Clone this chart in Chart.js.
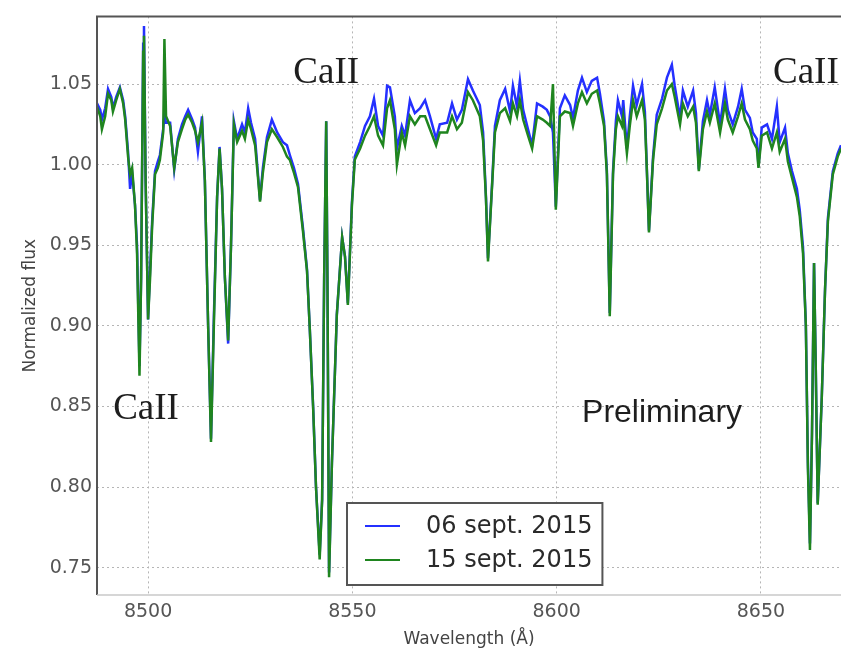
<!DOCTYPE html>
<html lang="en">
<head>
<meta charset="UTF-8">
<title>Ca II triplet</title>
<style>
  html, body { margin: 0; padding: 0; background: #fff; }
  #wrap { width: 841px; height: 654px; }
</style>
</head>
<body>
<div id="wrap"><canvas id="chart" width="841" height="654"></canvas></div>
<script src="https://cdn.jsdelivr.net/npm/chart.js"></script>
<script>
// Wavelength grid (Angstrom), shared by both nights
const wavelength = [
  8487.5, 8488.3, 8488.7, 8489.5, 8490.2, 8491.0, 8491.4, 8492.2, 8493.1, 8493.9,
  8494.4, 8495.1, 8495.6, 8496.1, 8496.8, 8497.3, 8497.9, 8498.3, 8498.8, 8499.0,
  8499.4, 8500.0, 8500.5, 8501.0, 8501.7, 8502.4, 8502.9, 8503.7, 8504.0, 8504.4,
  8505.4, 8506.4, 8507.3, 8508.3, 8509.1, 8509.8, 8510.8, 8511.5, 8512.2, 8513.2,
  8513.9, 8514.7, 8515.4, 8516.1, 8516.9, 8517.5, 8518.1, 8518.8, 8519.6, 8520.3,
  8521.0, 8521.8, 8523.0, 8523.7, 8524.5, 8525.2, 8526.2, 8526.9, 8527.4, 8528.1,
  8529.1, 8530.3, 8531.6, 8533.0, 8534.0, 8534.7, 8535.7, 8536.7, 8537.9, 8538.9,
  8539.6, 8540.4, 8541.1, 8542.0, 8542.6, 8543.1, 8543.6, 8543.9, 8544.3, 8545.0,
  8546.2, 8547.5, 8548.2, 8548.9, 8549.9, 8550.6, 8551.9, 8553.1, 8554.3, 8555.3,
  8556.3, 8557.5, 8558.5, 8559.2, 8560.4, 8560.9, 8562.1, 8562.9, 8564.1, 8565.3,
  8566.6, 8567.8, 8569.0, 8570.5, 8571.4, 8573.2, 8574.4, 8575.6, 8576.8, 8578.3,
  8579.5, 8581.2, 8582.0, 8582.7, 8583.2, 8584.2, 8584.9, 8586.1, 8587.4, 8588.6,
  8589.3, 8590.3, 8591.0, 8591.8, 8593.0, 8594.0, 8595.2, 8596.6, 8597.6, 8598.4,
  8599.1, 8599.8, 8600.8, 8602.0, 8603.3, 8604.0, 8605.2, 8606.2, 8607.4, 8608.6,
  8609.9, 8610.6, 8611.6, 8612.3, 8613.0, 8613.8, 8614.5, 8615.0, 8616.0, 8616.3,
  8617.2, 8617.9, 8618.7, 8619.6, 8620.9, 8621.6, 8622.1, 8622.6, 8623.6, 8624.5,
  8625.8, 8627.0, 8628.2, 8628.9, 8630.2, 8630.9, 8632.1, 8633.4, 8634.1, 8634.8,
  8635.8, 8636.8, 8637.5, 8638.7, 8640.0, 8641.2, 8641.9, 8643.1, 8644.4, 8645.3,
  8646.1, 8647.3, 8648.0, 8649.0, 8649.4, 8650.2, 8651.5, 8652.7, 8653.9, 8654.6,
  8655.9, 8656.6, 8657.6, 8658.8, 8659.5, 8660.3, 8661.0, 8661.5, 8662.0, 8662.5,
  8663.0, 8663.4, 8663.9, 8664.9, 8665.7, 8666.4, 8667.6, 8668.8, 8669.6
];

// Normalized flux, 06 sept. 2015
const flux06 = [
  1.038, 1.034, 1.028, 1.035, 1.047, 1.042, 1.035, 1.042, 1.048, 1.040,
  1.030, 1.008, 0.985, 0.995, 0.975, 0.950, 0.875, 0.930, 1.075, 1.086,
  0.990, 0.904, 0.935, 0.965, 0.996, 1.002, 1.006, 1.022, 1.030, 1.026,
  1.026, 0.997, 1.016, 1.025, 1.030, 1.034, 1.028, 1.023, 1.008, 1.030,
  0.990, 0.900, 0.830, 0.905, 0.980, 1.011, 0.985, 0.930, 0.889, 0.950,
  1.027, 1.016, 1.025, 1.020, 1.035, 1.026, 1.016, 0.994, 0.978, 0.998,
  1.017, 1.028, 1.020, 1.014, 1.012, 1.006, 0.998, 0.988, 0.961, 0.935,
  0.897, 0.850, 0.800, 0.758, 0.792, 0.930, 1.027, 0.930, 0.747, 0.815,
  0.907, 0.955, 0.943, 0.914, 0.977, 1.005, 1.014, 1.024, 1.030, 1.041,
  1.024, 1.018, 1.049, 1.048, 1.030, 1.010, 1.024, 1.018, 1.040, 1.032,
  1.035, 1.040, 1.030, 1.016, 1.025, 1.026, 1.038, 1.028, 1.034, 1.053,
  1.046, 1.037, 1.020, 0.980, 0.942, 0.988, 1.024, 1.040, 1.047, 1.033,
  1.049, 1.036, 1.052, 1.034, 1.022, 1.012, 1.038, 1.036, 1.034, 1.030,
  1.020, 0.974, 1.035, 1.043, 1.037, 1.029, 1.046, 1.054, 1.045, 1.052,
  1.054, 1.044, 1.027, 0.996, 0.908, 0.996, 1.027, 1.040, 1.030, 1.040,
  1.010, 1.030, 1.049, 1.037, 1.050, 1.033, 0.996, 0.959, 1.005, 1.031,
  1.041, 1.054, 1.062, 1.049, 1.029, 1.046, 1.036, 1.046, 1.032, 0.997,
  1.027, 1.040, 1.031, 1.048, 1.025, 1.047, 1.034, 1.025, 1.036, 1.047,
  1.034, 1.029, 1.020, 1.016, 0.999, 1.023, 1.025, 1.016, 1.036, 1.014,
  1.023, 1.007, 0.996, 0.985, 0.972, 0.949, 0.900, 0.815, 0.765, 0.833,
  0.939, 0.878, 0.790, 0.856, 0.923, 0.967, 0.996, 1.007, 1.012
];

// Normalized flux, 15 sept. 2015
const flux15 = [
  1.036, 1.030, 1.022, 1.030, 1.044, 1.040, 1.033, 1.040, 1.047, 1.038,
  1.028, 1.005, 0.994, 0.998, 0.975, 0.945, 0.869, 0.930, 1.070, 1.080,
  0.990, 0.904, 0.930, 0.962, 0.994, 0.998, 1.003, 1.020, 1.078, 1.030,
  1.024, 0.998, 1.014, 1.022, 1.028, 1.031, 1.026, 1.021, 1.014, 1.026,
  0.990, 0.900, 0.828, 0.900, 0.980, 1.010, 0.985, 0.930, 0.891, 0.950,
  1.025, 1.014, 1.021, 1.016, 1.028, 1.022, 1.012, 0.992, 0.977, 0.995,
  1.014, 1.022, 1.017, 1.011, 1.005, 1.003, 0.995, 0.986, 0.959, 0.934,
  0.897, 0.849, 0.800, 0.755, 0.792, 0.930, 1.027, 0.930, 0.744, 0.815,
  0.907, 0.955, 0.943, 0.913, 0.975, 1.003, 1.010, 1.018, 1.024, 1.030,
  1.018, 1.012, 1.035, 1.040, 1.022, 1.000, 1.020, 1.012, 1.030, 1.025,
  1.030, 1.030, 1.022, 1.012, 1.020, 1.020, 1.030, 1.022, 1.026, 1.045,
  1.040, 1.030, 1.015, 0.979, 0.940, 0.987, 1.020, 1.032, 1.035, 1.027,
  1.038, 1.030, 1.040, 1.028, 1.018, 1.010, 1.030, 1.028, 1.026, 1.024,
  1.050, 0.972, 1.030, 1.033, 1.032, 1.024, 1.038, 1.045, 1.038, 1.044,
  1.046, 1.038, 1.024, 0.994, 0.906, 0.994, 1.022, 1.030, 1.024, 1.030,
  1.007, 1.024, 1.040, 1.030, 1.040, 1.028, 0.995, 0.958, 1.003, 1.025,
  1.035, 1.046, 1.050, 1.042, 1.025, 1.038, 1.030, 1.036, 1.026, 0.996,
  1.022, 1.033, 1.026, 1.038, 1.020, 1.038, 1.028, 1.020, 1.030, 1.038,
  1.028, 1.022, 1.015, 1.010, 0.998, 1.018, 1.020, 1.010, 1.020, 1.008,
  1.016, 1.002, 0.992, 0.980, 0.968, 0.945, 0.900, 0.812, 0.761, 0.833,
  0.939, 0.878, 0.789, 0.856, 0.923, 0.965, 0.994, 1.005, 1.010
];

const seriesLabels = ['06 sept. 2015', '15 sept. 2015'];
const xTicks = [8500, 8550, 8600, 8650];
const yTicks = [0.75, 0.80, 0.85, 0.90, 0.95, 1.00, 1.05];

// text labels placed in data coordinates
const notes = [
  { text: 'CaII', x: 8499.5, y: 0.848, font: '37px "Liberation Serif"' },
  { text: 'CaII', x: 8543.6, y: 1.057, font: '37px "Liberation Serif"' },
  { text: 'CaII', x: 8661.0, y: 1.057, font: '37px "Liberation Serif"' },
  { text: 'Preliminary', x: 8625.8, y: 0.846, font: '32px "Liberation Sans"' }
];

const TICK_FONT = { family: 'DejaVu Sans', size: 19 };
const TITLE_FONT = { family: 'DejaVu Sans', size: 17 };

// axes frame, annotations and the boxed legend
const decorations = {
  id: 'decorations',
  afterDatasetsDraw(chart) {
    const { ctx, chartArea: a, scales } = chart;
    ctx.save();

    // spines: dark top/left, light bottom
    ctx.lineWidth = 2;
    ctx.strokeStyle = '#555';
    ctx.beginPath();
    ctx.moveTo(a.left, a.bottom);
    ctx.lineTo(a.left, a.top);
    ctx.lineTo(a.right, a.top);
    ctx.stroke();
    ctx.lineWidth = 1.5;
    ctx.strokeStyle = '#c8c8c8';
    ctx.beginPath();
    ctx.moveTo(a.left, a.bottom);
    ctx.lineTo(a.right, a.bottom);
    ctx.stroke();

    // annotations
    ctx.fillStyle = '#1e1e1e';
    ctx.textAlign = 'center';
    ctx.textBaseline = 'middle';
    notes.forEach(n => {
      ctx.font = n.font;
      ctx.fillText(n.text, scales.x.getPixelForValue(n.x), scales.y.getPixelForValue(n.y));
    });

    // legend
    ctx.font = '24px "DejaVu Sans"';
    const sets = chart.data.datasets;
    const textW = Math.max(...sets.map(d => ctx.measureText(d.label).width));
    const bx = a.left + 250, by = a.bottom - 92;
    const bw = 18 + 35 + 26 + textW + 10, bh = 82;
    ctx.fillStyle = '#fff';
    ctx.fillRect(bx, by, bw, bh);
    ctx.lineWidth = 2;
    ctx.strokeStyle = '#555';
    ctx.strokeRect(bx, by, bw, bh);
    ctx.textAlign = 'left';
    sets.forEach((d, i) => {
      const y = by + 23 + i * 34;
      ctx.strokeStyle = d.borderColor;
      ctx.lineWidth = 2;
      ctx.beginPath();
      ctx.moveTo(bx + 18, y);
      ctx.lineTo(bx + 53, y);
      ctx.stroke();
      ctx.fillStyle = '#2a2a2a';
      ctx.fillText(d.label, bx + 79, y + 1);
    });

    ctx.restore();
  }
};

const toPoints = ys => wavelength.map((w, i) => ({ x: w, y: ys[i] }));

new Chart(document.getElementById('chart'), {
  type: 'line',
  data: {
    datasets: [
      {
        label: seriesLabels[0],
        data: toPoints(flux06),
        borderColor: '#2430ff',
        borderWidth: 2.5,
        pointRadius: 0,
        tension: 0,
        order: 2
      },
      {
        label: seriesLabels[1],
        data: toPoints(flux15),
        borderColor: '#1f851f',
        borderWidth: 2.5,
        pointRadius: 0,
        tension: 0,
        order: 1
      }
    ]
  },
  options: {
    responsive: false,
    animation: false,
    layout: { padding: { top: 14, left: 0, right: 0, bottom: 0 } },
    plugins: {
      legend: { display: false },
      tooltip: { enabled: false }
    },
    scales: {
      x: {
        type: 'linear',
        min: 8487.5,
        max: 8669.6,
        afterFit: s => { s.height = 59; },
        afterBuildTicks: s => { s.ticks = xTicks.map(v => ({ value: v })); },
        ticks: {
          font: TICK_FONT,
          color: '#555',
          padding: 6,
          maxRotation: 0,
          callback: v => String(v)
        },
        grid: { color: '#b5b5b5', lineWidth: 1, drawTicks: false },
        border: { display: false, dash: [2, 3] },
        title: {
          display: true,
          text: 'Wavelength (Å)',
          font: TITLE_FONT,
          color: '#444',
          padding: { top: 0, bottom: 4 }
        }
      },
      y: {
        min: 0.733,
        max: 1.092,
        afterFit: s => { s.width = 97; },
        afterBuildTicks: s => { s.ticks = yTicks.map(v => ({ value: v })); },
        ticks: {
          font: TICK_FONT,
          color: '#555',
          padding: 5,
          callback: v => v.toFixed(2)
        },
        grid: { color: '#b5b5b5', lineWidth: 1, drawTicks: false },
        border: { display: false, dash: [2, 3] },
        title: {
          display: true,
          text: 'Normalized flux',
          font: TITLE_FONT,
          color: '#444',
          padding: { top: 20, bottom: 0 }
        }
      }
    }
  },
  plugins: [decorations]
});
</script>
</body>
</html>
